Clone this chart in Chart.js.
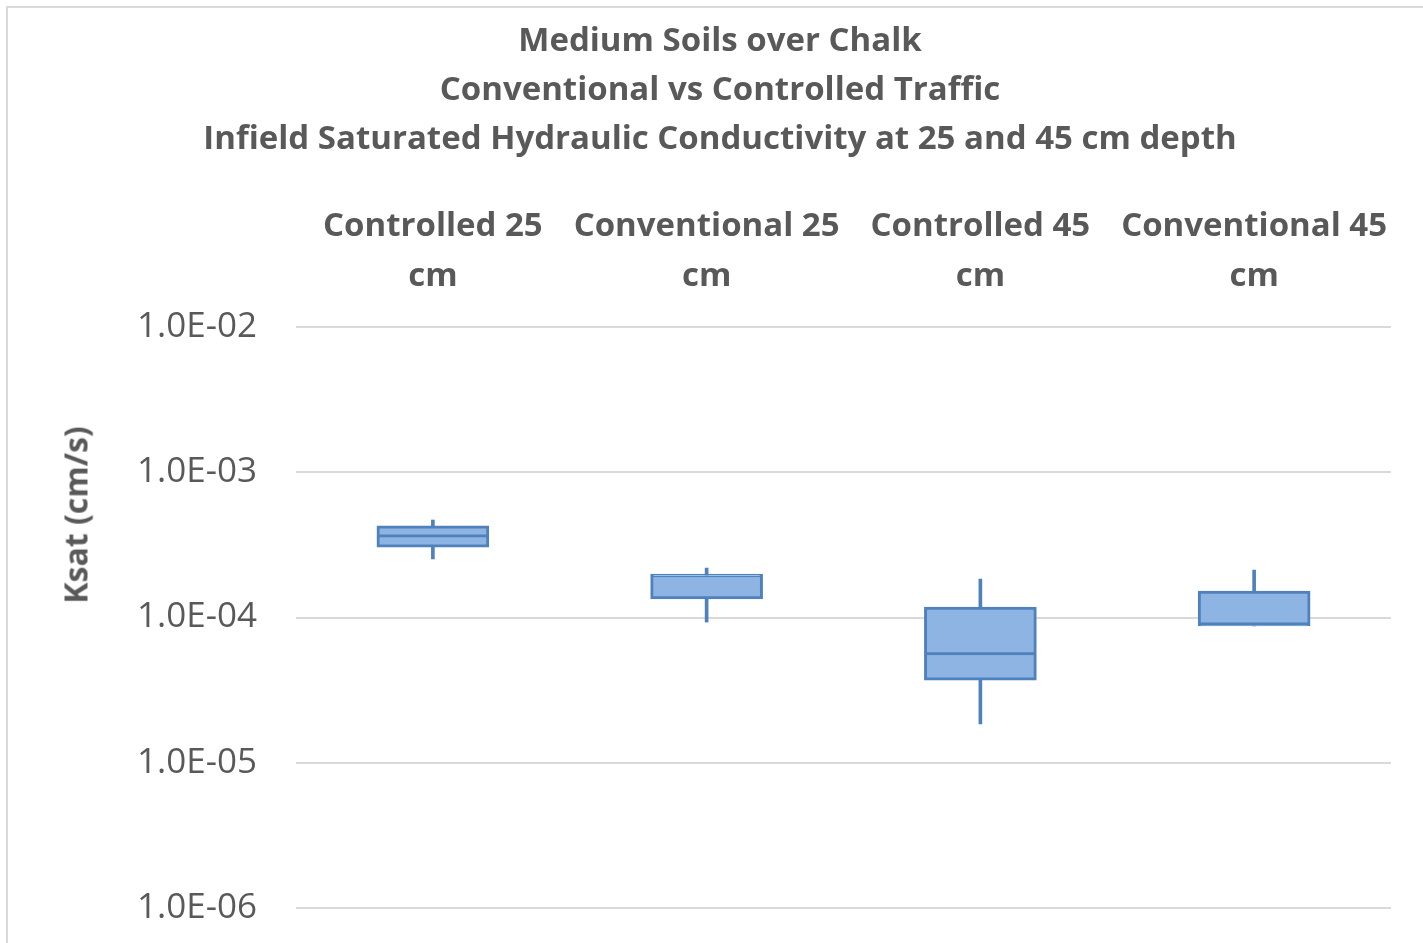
<!DOCTYPE html>
<html>
<head>
<meta charset="utf-8">
<script src="https://cdn.jsdelivr.net/npm/chart.js@4"></script>
<style>
  html, body { margin: 0; padding: 0; background: #fff; overflow: hidden; }
  #frame {
    position: absolute; left: 6px; top: 6px; width: 1430px; height: 960px;
    border-top: 2px solid #d9d9d9; border-left: 2px solid #d9d9d9;
  }
  #chart { position: absolute; left: 8px; top: 8px; }
  #yTitle {
    position: absolute; left: 75px; top: 515px;
    transform: translate(-50%, -50%) rotate(-90deg);
    font: bold 32px "Open Sans", sans-serif; color: #595959; white-space: nowrap;
  }
</style>
</head>
<body>
<div id="frame"></div>
<canvas id="chart" width="1426" height="960"></canvas>
<div id="yTitle">Ksat (cm/s)</div>
<script>
// box plot values (cm/s)
const categories = ['Controlled 25 cm', 'Conventional 25 cm', 'Controlled 45 cm', 'Conventional 45 cm'];
const minVals    = [2.53e-4, 9.3e-5, 1.85e-5, 8.75e-5];
const q1Vals     = [3.05e-4, 1.34e-4, 3.71e-5, 8.75e-5];
const medianVals = [3.58e-4, 1.90e-4, 5.52e-5, 8.87e-5];
const q3Vals     = [4.27e-4, 1.99e-4, 1.18e-4, 1.52e-4];
const maxVals    = [4.69e-4, 2.19e-4, 1.84e-4, 2.12e-4];

const tickValues = [1e-6, 1e-5, 1e-4, 1e-3, 1e-2];
const tickLabels = ['1.0E-06', '1.0E-05', '1.0E-04', '1.0E-03', '1.0E-02'];

const titleLines = [
    'Medium Soils over Chalk',
    'Conventional vs Controlled Traffic',
    'Infield Saturated Hydraulic Conductivity at 25 and 45 cm depth'
];

const fill = '#8eb4e3';
const edge = '#4f81bd';
const grey = '#595959';
const font = 'Open Sans';

// wrap "xxx 25 cm" into two lines like Excel does
const wrapped = categories.map(c => {
    const i = c.lastIndexOf(' ');
    return [c.slice(0, i), c.slice(i + 1)];
});

new Chart(document.getElementById('chart').getContext('2d'), {
    type: 'bar',
    data: {
        labels: wrapped,
        datasets: [
            {
                label: 'whisker',
                data: minVals.map((v, i) => [v, maxVals[i]]),
                backgroundColor: edge,
                borderWidth: 0,
                barThickness: 3,
                grouped: false,
                order: 3
            },
            {
                label: 'lower',
                data: q1Vals.map((v, i) => [v, medianVals[i]]),
                backgroundColor: fill,
                borderColor: edge,
                borderWidth: 3,
                borderSkipped: 'top',
                barThickness: 112,
                grouped: false,
                order: 2
            },
            {
                label: 'upper',
                data: medianVals.map((v, i) => [v, q3Vals[i]]),
                backgroundColor: fill,
                borderColor: edge,
                borderWidth: 3,
                borderSkipped: false,
                barThickness: 112,
                grouped: false,
                order: 1
            }
        ]
    },
    options: {
        responsive: false,
        animation: false,
        layout: { padding: { left: 41, right: 43, top: 0, bottom: 10 } },
        plugins: {
            legend: { display: false },
            tooltip: { enabled: false },
            title: {
                display: true,
                text: titleLines,
                color: grey,
                font: { family: font, size: 33, weight: 'bold', lineHeight: 49 / 33 },
                padding: { top: 9, bottom: 13 }
            }
        },
        scales: {
            x: {
                position: 'top',
                grid: { display: false, drawTicks: false },
                border: { display: false },
                ticks: {
                    color: grey,
                    padding: 25,
                    maxRotation: 0,
                    autoSkip: false,
                    font: { family: font, size: 33, weight: 'bold', lineHeight: 50 / 33 }
                }
            },
            y: {
                type: 'logarithmic',
                min: 1e-6,
                max: 1e-2,
                grid: { color: '#d9d9d9', lineWidth: 2, drawTicks: false },
                border: { display: false },
                afterBuildTicks: axis => { axis.ticks = tickValues.map(v => ({ value: v })); },
                afterFit: axis => { axis.width = 247; },
                ticks: {
                    color: grey,
                    padding: 39,
                    font: { family: font, size: 35 },
                    callback: v => tickLabels[tickValues.indexOf(v)]
                }
            }
        }
    }
});
</script>
</body>
</html>
